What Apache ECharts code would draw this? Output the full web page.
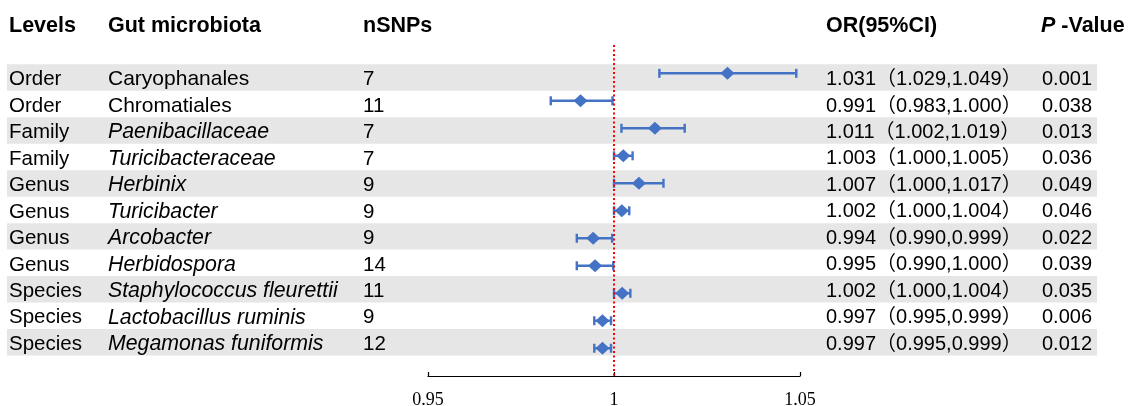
<!DOCTYPE html>
<html>
<head>
<meta charset="utf-8">
<script src="https://cdn.jsdelivr.net/npm/echarts@6/dist/echarts.min.js"></script>
<style>
html,body{margin:0;padding:0;background:#fff;}
#chart{width:1129px;height:406px;}
</style>
</head>
<body>
<div id="chart"></div>
<script>
// ---------- data ----------
var headers = ['Levels', 'Gut microbiota', 'nSNPs', 'OR(95%CI)', 'P-Value'];
var levels = ['Order','Order','Family','Family','Genus','Genus','Genus','Genus','Species','Species','Species'];
var taxa = ['Caryophanales','Chromatiales','Paenibacillaceae','Turicibacteraceae','Herbinix','Turicibacter','Arcobacter','Herbidospora','Staphylococcus fleurettii','Lactobacillus ruminis','Megamonas funiformis'];
var taxaItalic = [false,false,true,true,true,true,true,true,true,true,true];
var nSNPs = [7,11,7,7,9,9,9,14,11,9,12];
var orLabels = ['1.031（1.029,1.049）','0.991（0.983,1.000）','1.011（1.002,1.019）','1.003（1.000,1.005）','1.007（1.000,1.017）','1.002（1.000,1.004）','0.994（0.990,0.999）','0.995（0.990,1.000）','1.002（1.000,1.004）','0.997（0.995,0.999）','0.997（0.995,0.999）'];
var pValues = ['0.001','0.038','0.013','0.036','0.049','0.046','0.022','0.039','0.035','0.006','0.012'];
// plotted estimates (as drawn)
var orVals = [1.0305,0.991,1.011,1.0025,1.0067,1.0021,0.9944,0.9949,1.0022,0.9969,0.9969];
var lowVals = [1.0122,0.983,1.002,1.000,1.000,1.000,0.990,0.990,1.000,0.9947,0.9947];
var highVals = [1.049,0.9996,1.019,1.005,1.0133,1.0041,0.9995,0.9998,1.0044,0.9992,0.9992];
var xTicks = [0.95, 1, 1.05];

// ---------- layout ----------
var SANS = '"Liberation Sans", Arial, "Noto Sans CJK SC", sans-serif';
var colX = [9, 108, 363, 826, 1042];
var headerX = [9, 108, 363, 826, 1041];
var BLUE = '#4472C4';

var chart = echarts.init(document.getElementById('chart'), null, {renderer: 'canvas'});

var HFONT = 'bold 21.5px ' + SANS;
var headerGraphics = headers.map(function (h, k) {
  var style;
  if (h === 'P-Value') {
    style = {
      text: '{p|P}{v| -Value}',
      rich: {
        p: {font: 'italic bold 21.5px ' + SANS, fill: '#000'},
        v: {font: HFONT, fill: '#000'}
      },
      font: HFONT, fill: '#000'
    };
  } else {
    style = {text: h, font: HFONT, fill: '#000'};
  }
  return {type: 'text', left: headerX[k], top: 15, style: style};
});

var option = {
  animation: false,
  backgroundColor: '#fff',
  graphic: headerGraphics,
  grid: [
    {left: 428, width: 372, top: 45, height: 331, outerBoundsMode: 'none'},
    {left: 0, width: 1129, top: 64.3, height: 291.2, outerBoundsMode: 'none'}
  ],
  xAxis: [
    {
      gridIndex: 0, type: 'value', min: 0.95, max: 1.05, interval: 0.05,
      axisLine: {show: true, onZero: false, lineStyle: {color: '#000', width: 1.2}},
      axisTick: {show: true, inside: true, length: 4, lineStyle: {color: '#000', width: 1.2}},
      axisLabel: {show: true, margin: 15, color: '#000', fontFamily: '"Liberation Serif", "Times New Roman", serif', fontSize: 18,
        formatter: function (v) { for (var t = 0; t < xTicks.length; t++) { if (Math.abs(xTicks[t] - v) < 1e-9) return String(xTicks[t]); } return ''; }},
      splitLine: {show: false}
    },
    {gridIndex: 1, type: 'value', min: 0, max: 1129, show: false}
  ],
  yAxis: [
    {gridIndex: 0, type: 'value', min: -1.03, max: 11.01, inverse: true, show: false},
    {gridIndex: 1, type: 'category', data: taxa, inverse: true, show: false}
  ],
  series: [
    {
      // table rows: stripes + text
      type: 'custom', xAxisIndex: 1, yAxisIndex: 1, z: 1, silent: true,
      data: taxa.map(function (t, i) { return [0, i]; }),
      renderItem: function (params, api) {
        var i = api.value(1);
        var c = api.coord([0, i]);
        var band = api.size([0, 1])[1];
        var y = c[1];
        var ty = y + 2;
        var children = [];
        if (i % 2 === 0) {
          var x0 = api.coord([7, i])[0], x1 = api.coord([1097, i])[0];
          children.push({type: 'rect', shape: {x: x0, y: y - band / 2, width: x1 - x0, height: band}, style: {fill: '#E7E6E6'}});
        }
        function txt(x, s, italic, size) {
          return {type: 'text', x: x, y: ty, style: {text: s, font: (italic ? 'italic ' : '') + size + 'px ' + SANS, fill: '#000', align: 'left', verticalAlign: 'middle'}};
        }
        children.push(txt(colX[0], levels[i], false, 20.5));
        children.push(txt(colX[1], taxa[i], taxaItalic[i], taxaItalic[i] ? 21.3 : 21));
        children.push(txt(colX[2], String(nSNPs[i]), false, 20.5));
        children.push(txt(colX[3], orLabels[i], false, 20));
        children.push(txt(colX[4], pValues[i], false, 20));
        return {type: 'group', children: children};
      }
    },
    {
      // error bars
      type: 'custom', xAxisIndex: 0, yAxisIndex: 0, z: 3, silent: true,
      data: orVals.map(function (v, i) { return [lowVals[i], highVals[i], i]; }),
      renderItem: function (params, api) {
        var lo = api.value(0), hi = api.value(1), i = api.value(2);
        var p1 = api.coord([lo, i]), p2 = api.coord([hi, i]);
        var h = 4.5;
        var st = {stroke: BLUE, lineWidth: 2.4};
        return {type: 'group', children: [
          {type: 'line', shape: {x1: p1[0], y1: p1[1], x2: p2[0], y2: p2[1]}, style: st},
          {type: 'line', shape: {x1: p1[0], y1: p1[1] - h, x2: p1[0], y2: p1[1] + h}, style: st},
          {type: 'line', shape: {x1: p2[0], y1: p2[1] - h, x2: p2[0], y2: p2[1] + h}, style: st}
        ]};
      }
    },
    {
      type: 'scatter', xAxisIndex: 0, yAxisIndex: 0, z: 4, silent: true,
      symbol: 'diamond', symbolSize: [14, 13],
      itemStyle: {color: BLUE, opacity: 1},
      data: orVals.map(function (v, i) { return [v, i]; }),
      markLine: {
        silent: true, symbol: 'none', z: 5,
        label: {show: false},
        lineStyle: {color: '#FF0000', type: [2, 2.5], width: 2, opacity: 1},
        data: [{xAxis: 1}]
      }
    }
  ]
};
chart.setOption(option);
</script>
</body>
</html>
